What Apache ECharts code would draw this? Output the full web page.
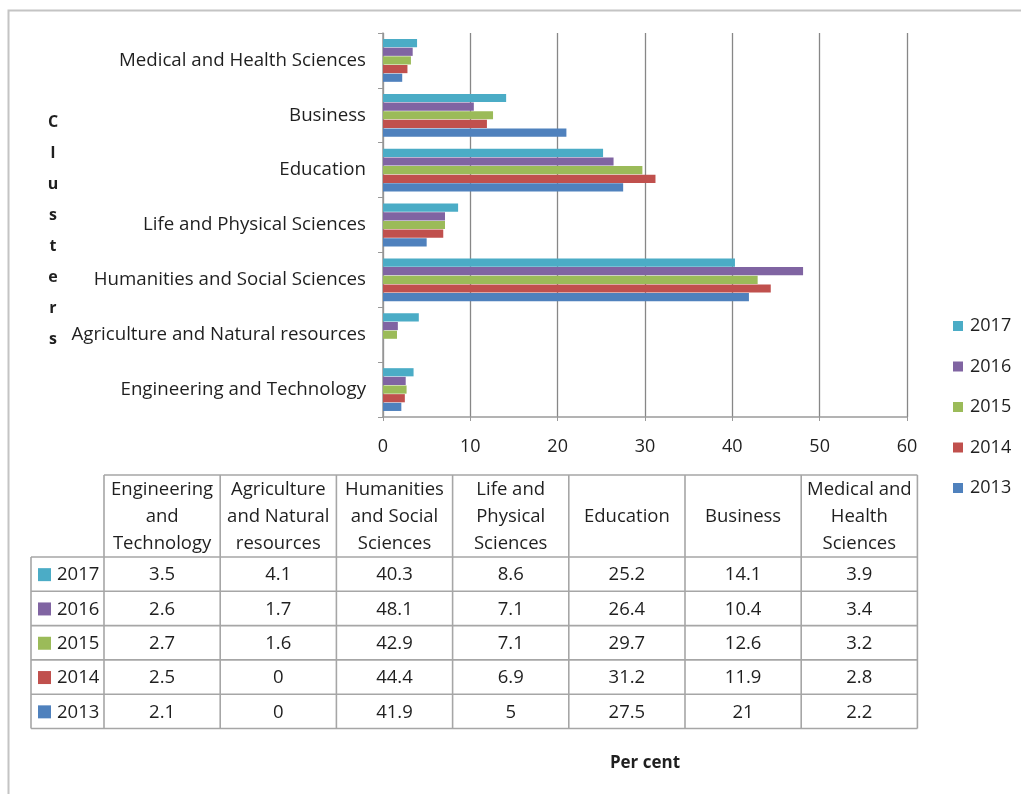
<!DOCTYPE html>
<html>
<head>
<meta charset="utf-8">
<script src="https://cdn.jsdelivr.net/npm/echarts@6/dist/echarts.min.js"></script>
<style>
html,body{margin:0;padding:0;background:#fff;}
#chart{width:1021px;height:794px;}
</style>
</head>
<body>
<div id="chart"></div>
<script>
// ---- data ----
const categories = ['Engineering and Technology','Agriculture and Natural resources','Humanities and Social Sciences','Life and Physical Sciences','Education','Business','Medical and Health Sciences'];
const tableHeaders = [['Engineering','and','Technology'],['Agriculture','and Natural','resources'],['Humanities','and Social','Sciences'],['Life and','Physical','Sciences'],['Education'],['Business'],['Medical and','Health','Sciences']];
const years = ['2017','2016','2015','2014','2013'];
const v2017 = [3.5, 4.1, 40.3, 8.6, 25.2, 14.1, 3.9];
const v2016 = [2.6, 1.7, 48.1, 7.1, 26.4, 10.4, 3.4];
const v2015 = [2.7, 1.6, 42.9, 7.1, 29.7, 12.6, 3.2];
const v2014 = [2.5, 0, 44.4, 6.9, 31.2, 11.9, 2.8];
const v2013 = [2.1, 0, 41.9, 5, 27.5, 21, 2.2];
const xTicks = [0, 10, 20, 30, 40, 50, 60];
const yTitle = 'Clusters';
const xTitle = 'Per cent';

// ---- styles ----
const colors = {'2017':'#4BACC6','2016':'#8064A2','2015':'#9BBB59','2014':'#C0504D','2013':'#4F81BD'};
const seriesValues = {'2017':v2017,'2016':v2016,'2015':v2015,'2014':v2014,'2013':v2013};
const FONT = '"Open Sans"';
const TXT = '#1f1f1f';
const FS = 18;

const chart = echarts.init(document.getElementById('chart'), null, {renderer:'canvas'});

// table layout
const tLeft = 104, colW = 116.2, hTop = 475, hBottom = 557, rowH = 34.3, yLeft = 31;
const nCols = categories.length, nRows = years.length;
const tRight = tLeft + colW * nCols;
const tBottom = hBottom + rowH * nRows;
const lineStyle = {stroke:'#A6A6A6', lineWidth:1.6};
const g = [];
// border of outer chart area
g.push({type:'rect', shape:{x:8.5, y:10.5, width:1100, height:900}, style:{fill:'none', stroke:'#C4C4C4', lineWidth:2}, silent:true});
// vertical y-axis title (stacked letters)
g.push({type:'text', style:{x:53, y:231, text:yTitle.split('').join('\n'), align:'center', verticalAlign:'middle',
  font:'bold 16px ' + FONT, fill:TXT, lineHeight:31}});
g.push({type:'line', shape:{x1:tLeft, y1:hTop, x2:tRight, y2:hTop}, style:lineStyle});
for (let i = 0; i <= nCols; i++) {
  const x = tLeft + i * colW;
  g.push({type:'line', shape:{x1:x, y1:hTop, x2:x, y2:tBottom}, style:lineStyle});
}
g.push({type:'line', shape:{x1:yLeft, y1:hBottom, x2:yLeft, y2:tBottom}, style:lineStyle});
for (let j = 0; j <= nRows; j++) {
  const y = hBottom + j * rowH;
  g.push({type:'line', shape:{x1:yLeft, y1:y, x2:tRight, y2:y}, style:lineStyle});
}
// headers
tableHeaders.forEach((lines, i) => {
  g.push({type:'text', style:{
    x: tLeft + colW * (i + 0.5), y: (hTop + hBottom) / 2 + 1,
    text: lines.join('\n'), align:'center', verticalAlign:'middle',
    font: '18.5px ' + FONT, fill: TXT, lineHeight: 27
  }});
});
// rows
years.forEach((yr, j) => {
  const cy = hBottom + rowH * (j + 0.5) + 1;
  g.push({type:'rect', shape:{x:38, y:cy - 7, width:13, height:13}, style:{fill:colors[yr]}});
  g.push({type:'text', style:{x:57, y:cy, text:yr, align:'left', verticalAlign:'middle', font: '18.5px ' + FONT, fill: TXT}});
  seriesValues[yr].forEach((v, i) => {
    g.push({type:'text', style:{x: tLeft + colW * (i + 0.5), y: cy, text: String(v), align:'center', verticalAlign:'middle', font: '18.5px ' + FONT, fill: TXT}});
  });
});

const option = {
  backgroundColor:'#ffffff',
  animation:false,
  textStyle:{fontFamily:FONT},
  grid:{left:383, right:114, top:33, bottom:377, containLabel:false},
  legend:{
    orient:'vertical', left:948, top:312,
    data: years,
    itemWidth:10, itemHeight:10, itemGap:22.5,
    icon:'rect',
    textStyle:{fontSize:FS, color:TXT, fontFamily:FONT, padding:[0,0,0,2]}
  },
  xAxis:{
    type:'value', min:xTicks[0], max:xTicks[xTicks.length - 1], interval:xTicks[1] - xTicks[0],
    name:xTitle, nameLocation:'middle', nameGap:346,
    nameTextStyle:{fontSize:17, fontWeight:'bold', color:TXT, fontFamily:FONT, verticalAlign:'middle'},
    axisLine:{show:true, lineStyle:{color:'#9A9A9A', width:1.5}},
    axisTick:{show:true, length:4, lineStyle:{color:'#9A9A9A'}},
    axisLabel:{margin:21, fontSize:18, color:TXT, fontFamily:FONT},
    splitLine:{show:true, lineStyle:{color:'#878787', width:1.3}}
  },
  yAxis:{
    type:'category', data:categories,
    axisLine:{show:true, lineStyle:{color:'#9A9A9A', width:1.5}},
    axisTick:{show:true, length:5, lineStyle:{color:'#9A9A9A'}},
    axisLabel:{margin:17, fontSize:18.7, color:TXT, fontFamily:FONT, padding:[3,0,0,0]},
    splitLine:{show:false}
  },
  series: years.map(yr => ({
    name: yr, type:'bar', data: seriesValues[yr],
    itemStyle:{color: colors[yr]},
    barGap:'6%', barCategoryGap:'22%'
  })),
  graphic: g
};
chart.setOption(option);
</script>
</body>
</html>
